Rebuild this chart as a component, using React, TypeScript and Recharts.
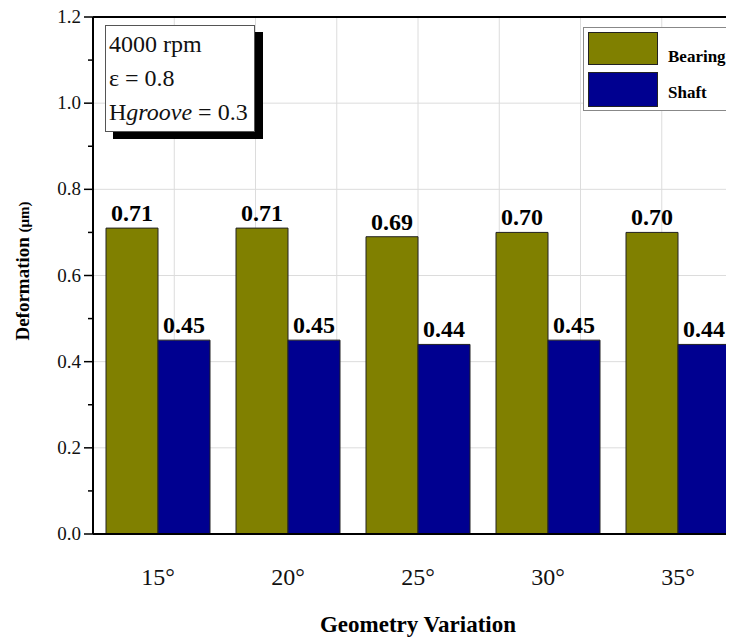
import React from 'react';
import {
  BarChart,
  Bar,
  XAxis,
  YAxis,
  CartesianGrid,
  LabelList,
  ReferenceLine,
  Legend,
} from 'recharts';

const categories = ['15°', '20°', '25°', '30°', '35°'];
const bearing = [0.71, 0.71, 0.69, 0.7, 0.7];
const shaft = [0.45, 0.45, 0.44, 0.45, 0.44];
const yTicks = [0, 0.1, 0.2, 0.3, 0.4, 0.5, 0.6, 0.7, 0.8, 0.9, 1.0, 1.1, 1.2];
const yMajor = [0, 0.2, 0.4, 0.6, 0.8, 1.0, 1.2];

const data = categories.map((c, i) => ({ geometry: c, bearing: bearing[i], shaft: shaft[i] }));
// band centres and band edges on a 0..n scale for grid lines and minor ticks
const gridX = categories.flatMap((_, i) => [i, i + 0.5]).concat([categories.length]);

const FONT = '"Liberation Serif", "Times New Roman", serif';

const YTick = (props: any) => {
  const { x, y, payload } = props;
  const v = Number(payload.value);
  const major = yMajor.some((m) => Math.abs(m - v) < 1e-6);
  return (
    <g>
      <line x1={x} x2={major ? x - 9 : x - 5} y1={y} y2={y} stroke="#000" strokeWidth={1.5} />
      {major && (
        <text x={x - 12} y={y} dy={6} textAnchor="end" fontSize={19} fontFamily={FONT} fill="#111">
          {v.toFixed(1)}
        </text>
      )}
    </g>
  );
};

const XMinorTick = (props: any) => {
  const { x, y, payload } = props;
  const centre = Number(payload.value) % 1 !== 0;
  return <line x1={x} x2={x} y1={y} y2={y + (centre ? 9 : 5)} stroke="#000" strokeWidth={1.5} />;
};

const LegendBox = () => (
  <div
    style={{
      width: 147,
      height: 84,
      border: '1px solid #888',
      background: '#fff',
      position: 'relative',
      boxSizing: 'border-box',
      fontFamily: FONT,
      fontWeight: 'bold',
      fontSize: 17,
    }}
  >
    <div style={{ position: 'absolute', left: 4, top: 4, width: 70, height: 33, background: '#808000', border: '1px solid #222', boxSizing: 'border-box' }} />
    <div style={{ position: 'absolute', left: 84, top: 19 }}>Bearing</div>
    <div style={{ position: 'absolute', left: 4, top: 44, width: 70, height: 35, background: '#000090', border: '1px solid #222', boxSizing: 'border-box' }} />
    <div style={{ position: 'absolute', left: 84, top: 55 }}>Shaft</div>
  </div>
);

export default function App() {
  return (
    <div
      style={{
        position: 'relative',
        width: 734,
        height: 638,
        margin: '-8px 0 0 -8px',
        overflow: 'hidden',
        background: '#fff',
      }}
    >
      <BarChart
        width={768}
        height={638}
        data={data}
        margin={{ top: 17, right: 25, left: 8, bottom: 44 }}
        barCategoryGap="10%"
        barGap={0}
      >
        <XAxis
          xAxisId="grid"
          type="number"
          domain={[0, categories.length]}
          ticks={gridX}
          height={0}
          axisLine={false}
          tickLine={false}
          tickSize={0}
          tickMargin={0}
          tick={<XMinorTick />}
          allowDataOverflow
        />
        <XAxis
          dataKey="geometry"
          height={60}
          axisLine={{ stroke: '#000', strokeWidth: 2 }}
          tickLine={false}
          tickSize={0}
          tickMargin={34}
          tick={{ fontSize: 24, fill: '#111', fontFamily: FONT }}
        />
        <YAxis
          width={85}
          domain={[0, 1.2]}
          ticks={yTicks}
          interval={0}
          axisLine={{ stroke: '#000', strokeWidth: 2 }}
          tickLine={false}
          tickSize={0}
          tickMargin={0}
          tick={<YTick />}
        />
        <CartesianGrid
          xAxisId="grid"
          stroke="#dcdcdc"
          horizontalValues={yMajor}
          verticalValues={gridX}
        />
        <ReferenceLine y={1.2} stroke="#000" strokeWidth={2} />
        <Legend
          layout="horizontal"
          verticalAlign="middle"
          align="center"
          wrapperStyle={{ position: 'absolute', left: 583, top: 27, width: 147 }}
          content={() => <LegendBox />}
        />
        <Bar dataKey="bearing" name="Bearing" fill="#808000" stroke="#222" strokeWidth={1} isAnimationActive={false}>
          <LabelList
            dataKey="bearing"
            position="top"
            offset={7}
            formatter={(v: any) => Number(v).toFixed(2)}
            style={{ fontSize: 24, fontWeight: 'bold', fontFamily: FONT, fill: '#000' }}
          />
        </Bar>
        <Bar dataKey="shaft" name="Shaft" fill="#000090" stroke="#222" strokeWidth={1} isAnimationActive={false}>
          <LabelList
            dataKey="shaft"
            position="top"
            offset={7}
            formatter={(v: any) => Number(v).toFixed(2)}
            style={{ fontSize: 24, fontWeight: 'bold', fontFamily: FONT, fill: '#000' }}
          />
        </Bar>
      </BarChart>

      <div
        style={{
          position: 'absolute',
          left: 105,
          top: 25,
          width: 150,
          height: 107,
          border: '1px solid #555',
          background: '#fff',
          boxShadow: '8px 7px 0 #000',
          fontFamily: FONT,
          fontSize: 24,
          lineHeight: '34px',
          padding: '1px 0 0 3px',
          boxSizing: 'border-box',
          color: '#111',
          whiteSpace: 'nowrap',
        }}
      >
        <div>4000 rpm</div>
        <div>ε = 0.8</div>
        <div>
          H<i>groove</i> = 0.3
        </div>
      </div>

      <div
        style={{
          position: 'absolute',
          left: 23,
          top: 271,
          transform: 'translate(-50%, -50%) rotate(-90deg)',
          fontFamily: FONT,
          fontWeight: 'bold',
          fontSize: 19,
          whiteSpace: 'nowrap',
        }}
      >
        Deformation <span style={{ fontSize: 15 }}>(μm)</span>
      </div>

      <div
        style={{
          position: 'absolute',
          left: 418,
          top: 625,
          transform: 'translate(-50%, -50%)',
          fontFamily: FONT,
          fontWeight: 'bold',
          fontSize: 23,
          whiteSpace: 'nowrap',
        }}
      >
        Geometry Variation
      </div>
    </div>
  );
}
